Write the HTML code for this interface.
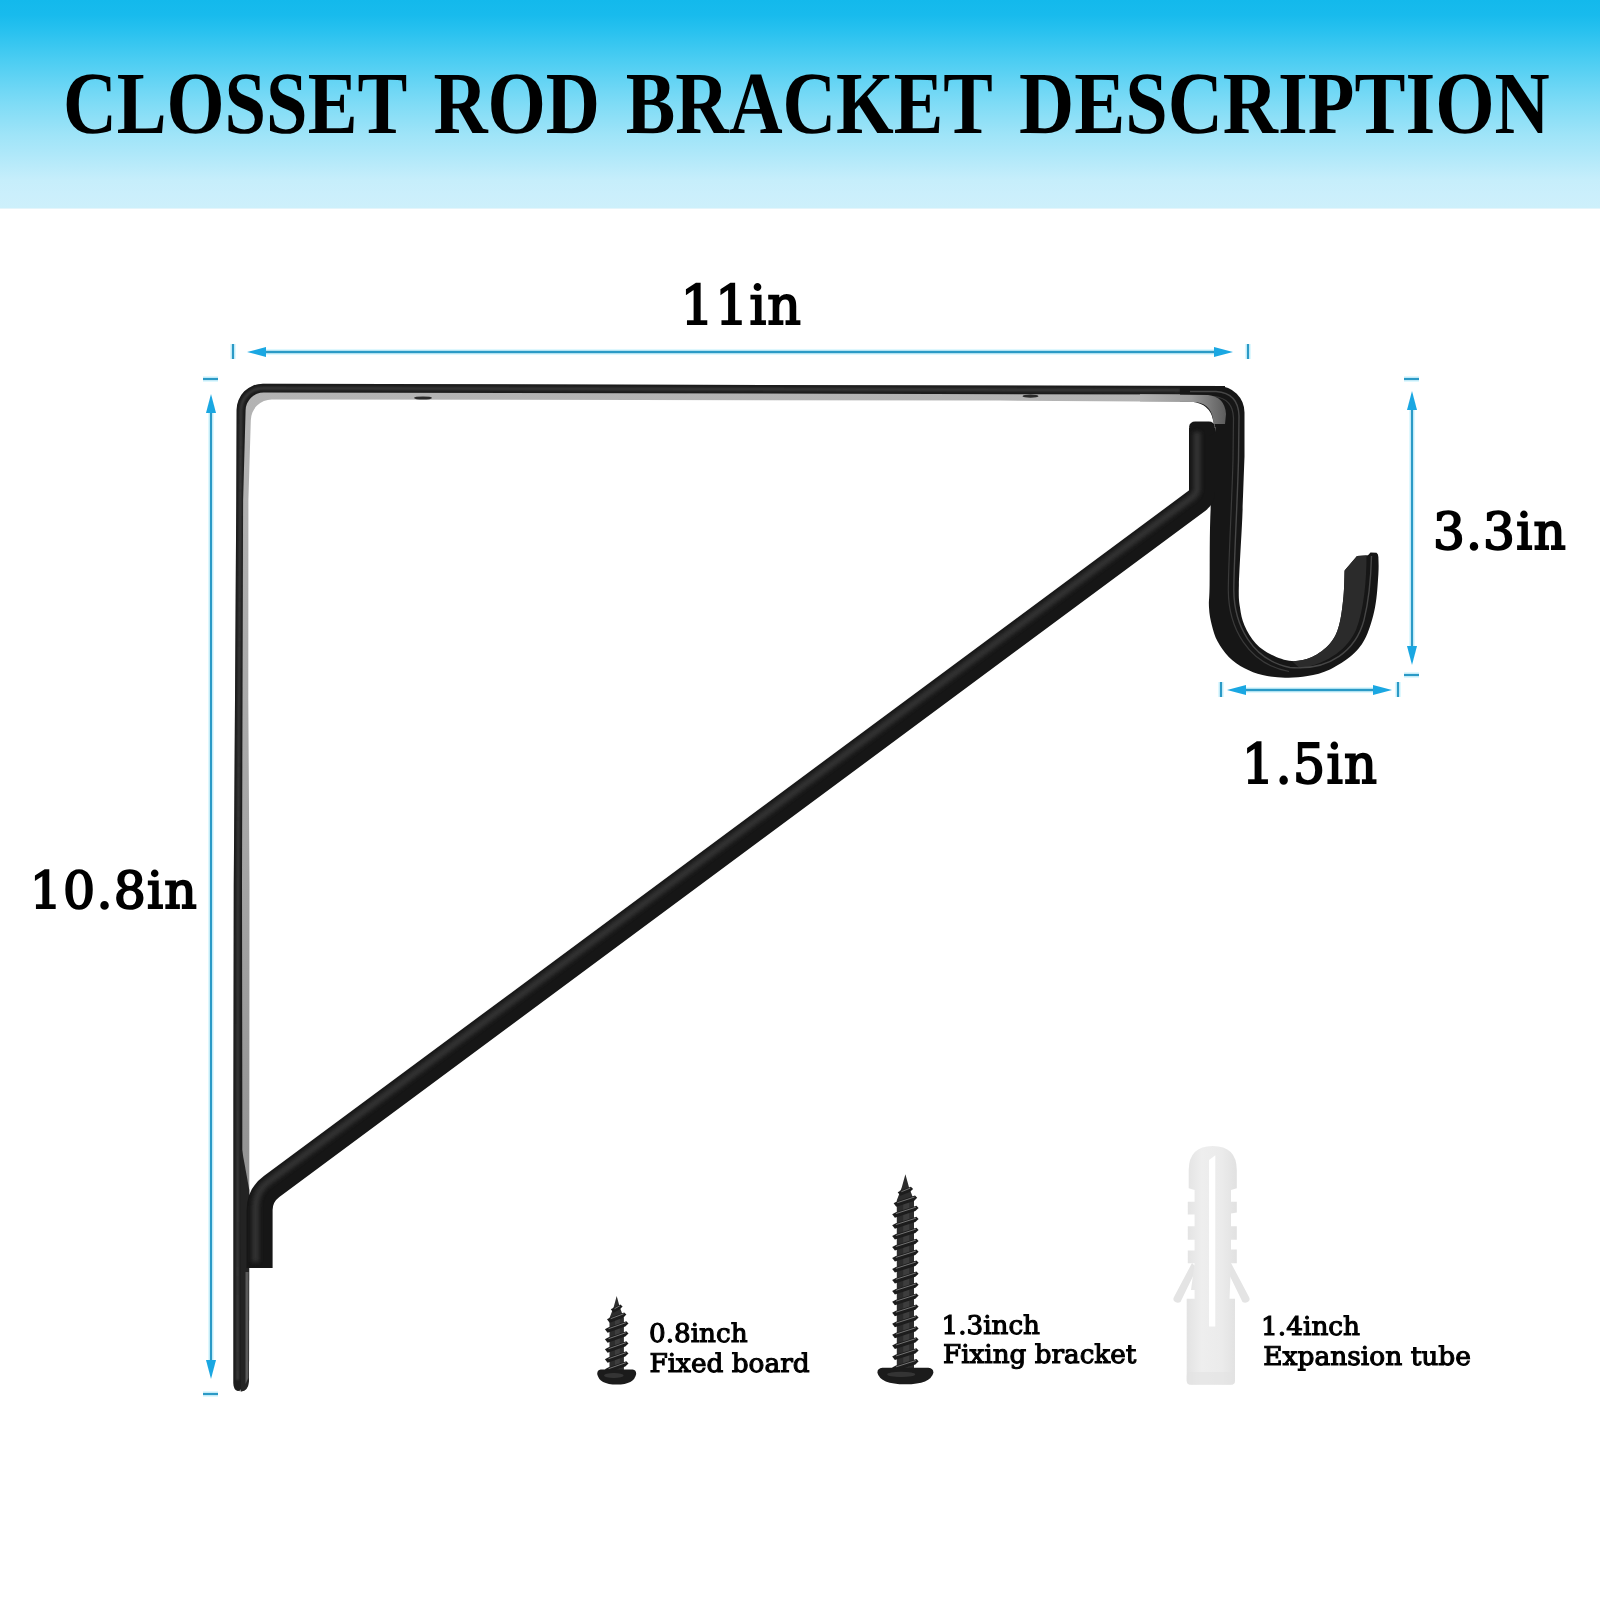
<!DOCTYPE html>
<html lang="en">
<head>
<meta charset="utf-8">
<title>Closset Rod Bracket Description</title>
<style>
  html, body { margin: 0; padding: 0; }
  body { width: 1600px; height: 1600px; position: relative; overflow: hidden; background: #ffffff;
         font-family: "Liberation Serif", "DejaVu Serif", serif; }
  #hdr { position: absolute; left: 0; top: 0; width: 1600px; height: 208px; border-bottom: 1px solid #e4f5fb;
         background: linear-gradient(to bottom, #13b9ec 0px, #18bbed 15px, #27c1ef 30px, #4bcdf2 60px, #6fd7f5 90px, #80dcf6 105px, #9fe4f8 135px, #abe7f9 150px, #c6eefb 180px, #cbeffc 195px, #cdf0fb 208px); }
  svg { position: absolute; left: 0; top: 0; will-change: transform; }
  text { font-family: "Liberation Serif", "DejaVu Serif", serif; font-weight: bold; fill: #000; text-rendering: geometricPrecision; }
  .lbl, .lbl text { font-family: "DejaVu Serif", "Liberation Serif", serif; font-weight: normal; stroke: #000; stroke-linejoin: miter; }
</style>
</head>
<body>
<div id="hdr"></div>
<svg width="1600" height="1600" viewBox="0 0 1600 1600">
  <defs>
    <linearGradient id="gTop" x1="0" y1="0" x2="0" y2="1">
      <stop offset="0" stop-color="#b9b9b9"/><stop offset="1" stop-color="#8f8f8f"/>
    </linearGradient>
    <filter id="blur2" x="-5%" y="-5%" width="110%" height="110%"><feGaussianBlur stdDeviation="2"/></filter>
    <linearGradient id="gTube" x1="0" y1="0" x2="1" y2="0"><stop offset="0" stop-color="#e3e3e3"/><stop offset="0.3" stop-color="#eeeeee"/><stop offset="0.7" stop-color="#ebebeb"/><stop offset="1" stop-color="#e1e1e1"/></linearGradient>
    <linearGradient id="gFillet" gradientUnits="userSpaceOnUse" x1="1140" y1="0" x2="1226" y2="0"><stop offset="0" stop-color="#b2b2b2"/><stop offset="0.6" stop-color="#9a9a9a"/><stop offset="1" stop-color="#5c5c5c"/></linearGradient>
    <filter id="blur1" x="-5%" y="-5%" width="110%" height="110%"><feGaussianBlur stdDeviation="0.9"/></filter>
    <linearGradient id="gUnder" gradientUnits="userSpaceOnUse" x1="0" y1="380" x2="0" y2="1300"><stop offset="0" stop-color="#b4b4b4"/><stop offset="0.5" stop-color="#a6a6a6"/><stop offset="1" stop-color="#8c8c8c"/></linearGradient>
  </defs>

  <!-- TITLE -->
  <g id="title" font-size="88.6">
    <text id="t1" x="62.9" y="133.4" textLength="344.3" lengthAdjust="spacingAndGlyphs">CLOSSET</text>
    <text id="t2" x="433.4" y="133.4" textLength="166.6" lengthAdjust="spacingAndGlyphs">ROD</text>
    <text id="t3" x="625.8" y="133.4" textLength="367.0" lengthAdjust="spacingAndGlyphs">BRACKET</text>
    <text id="t4" x="1019.0" y="133.4" textLength="530.8" lengthAdjust="spacingAndGlyphs">DESCRIPTION</text>
  </g>

  <!-- DIMENSION LABELS -->
  <text id="l11" class="lbl" letter-spacing="1.2" stroke-width="2" x="680.6" y="324.0" font-size="54.4" textLength="121.5" lengthAdjust="spacingAndGlyphs">11in</text>
  <text id="l108" class="lbl" letter-spacing="1.2" stroke-width="2" x="29.8" y="908.0" font-size="51.0" textLength="168.3" lengthAdjust="spacingAndGlyphs">10.8in</text>
  <text id="l33" class="lbl" letter-spacing="1.2" stroke-width="2" x="1432.9" y="549.2" font-size="51.0" textLength="134.0" lengthAdjust="spacingAndGlyphs">3.3in</text>
  <text id="l15" class="lbl" letter-spacing="1.2" stroke-width="2" x="1241.8" y="782.8" font-size="55.0" textLength="136.3" lengthAdjust="spacingAndGlyphs">1.5in</text>

  <!-- BLUE DIMENSION ARROWS -->
  <g id="dims">
    <g stroke="#dcf8fe" stroke-width="6" opacity="0.9">
      <line x1="233" y1="344" x2="233" y2="359"/>
      <line x1="1248" y1="344" x2="1248" y2="359"/>
      <line x1="262" y1="352" x2="1218" y2="352"/>
      <line x1="203" y1="379" x2="218" y2="379"/>
      <line x1="203" y1="1394" x2="218" y2="1394"/>
      <line x1="211" y1="410" x2="211" y2="1364"/>
      <line x1="1404" y1="379" x2="1419" y2="379"/>
      <line x1="1404" y1="675" x2="1419" y2="675"/>
      <line x1="1412" y1="408" x2="1412" y2="648"/>
      <line x1="1221" y1="682" x2="1221" y2="697"/>
      <line x1="1398" y1="682" x2="1398" y2="697"/>
      <line x1="1244" y1="690" x2="1375" y2="690"/>
    </g>
    <g stroke="#2b9ac6" stroke-width="2.3">
      <line x1="233" y1="344" x2="233" y2="359"/>
      <line x1="1248" y1="344" x2="1248" y2="359"/>
      <line x1="262" y1="352" x2="1218" y2="352"/>
      <line x1="203" y1="379" x2="218" y2="379"/>
      <line x1="203" y1="1394" x2="218" y2="1394"/>
      <line x1="211" y1="410" x2="211" y2="1364"/>
      <line x1="1404" y1="379" x2="1419" y2="379"/>
      <line x1="1404" y1="675" x2="1419" y2="675"/>
      <line x1="1412" y1="408" x2="1412" y2="648"/>
      <line x1="1221" y1="682" x2="1221" y2="697"/>
      <line x1="1398" y1="682" x2="1398" y2="697"/>
      <line x1="1244" y1="690" x2="1375" y2="690"/>
    </g>
    <g fill="#1aa7e2">
      <polygon points="247,352 266,347 266,357"/>
      <polygon points="1233,352 1214,347 1214,357"/>
      <polygon points="211,394 206,413 216,413"/>
      <polygon points="211,1379 206,1360 216,1360"/>
      <polygon points="1412,391 1407,410 1417,410"/>
      <polygon points="1412,665 1407,646 1417,646"/>
      <polygon points="1227,690 1246,685 1246,695"/>
      <polygon points="1392,690 1373,685 1373,695"/>
    </g>
  </g>

  <!-- BRACKET placeholder -->
  <g id="bracket">
    <!-- frame: left strip + top bar (gray underside first, then dark face) -->
    <path d="M 233.4 1383 L 233.4 1100 L 233.75 885 L 235 700 L 236.25 500 L 236.6 410 A 26.3 26.3 0 0 1 263 383.7 L 1225 386 L 1225 402 L 1000 400.6 L 272 399.5 A 21 21 0 0 0 250.8 420.5 L 248.4 500 L 248.3 700 L 249.5 885 L 249.3 1190 L 249 1381 Q 248 1391.4 241 1391.4 Q 233.4 1391 233.4 1383 Z" fill="url(#gUnder)"/>
    <path d="M 233.4 1383 L 233.4 1100 L 233.75 885 L 235 700 L 236.25 500 L 236.6 410 A 26.3 26.3 0 0 1 263 383.7 L 1225 386 L 1225 394.6 L 264 392.5 A 18 18 0 0 0 245.6 410.5 L 243.1 500 L 242.5 700 L 242 885 L 242.3 1100 L 242.3 1383 Q 242 1391 238 1391 Q 233.4 1390 233.4 1383 Z" fill="#1c1c1c"/>
    <path d="M 237.6 1380 L 237.7 1100 L 238 885 L 239 700 L 240.3 500 L 240.9 410 A 22 22 0 0 1 263 388.2 L 1180 390.2" fill="none" stroke="#4a4a4a" stroke-width="2.6" opacity="0.7" filter="url(#blur1)"/>
    <!-- lower part of strip is fully dark -->
    <path d="M 242 1150 L 249.3 1190 L 249 1381 Q 248 1391.4 241 1391.4 L 240 1150 Z" fill="#232323"/>
    <path d="M 245.5 1272 L 248.6 1272 L 248.4 1378 L 245.5 1384 Z" fill="#5a5a5a"/>
    <!-- holes in top bar -->
    <ellipse cx="423" cy="398" rx="9" ry="1.6" fill="#2a2a2a"/>
    <ellipse cx="1030.5" cy="396.2" rx="8" ry="1.6" fill="#2a2a2a"/>

    <!-- hook -->
    <path id="hook" d="M 1180 386 L 1218 386 A 26.5 26.5 0 0 1 1244.5 412.5 L 1244.5 456.8
      C 1244.1 466.9 1243.2 496.1 1242.3 517.5 C 1241.3 538.9 1239.3 570.0 1238.9 585.0 C 1238.5 600.0 1239.1 600.8 1240.0 607.5 C 1240.9 614.3 1241.9 619.5 1244.5 625.5 C 1247.1 631.5 1251.3 638.6 1255.8 643.5 C 1260.3 648.4 1265.5 651.8 1271.5 654.8 C 1277.5 657.7 1285.0 660.7 1291.8 661.1 C 1298.5 661.4 1305.6 659.9 1312.0 657.0 C 1318.4 654.1 1325.5 648.8 1330.0 643.5 C 1334.5 638.3 1336.8 633.4 1339.0 625.5 C 1341.3 617.6 1342.6 605.4 1343.5 596.3 C 1344.4 587.1 1344.4 574.7 1344.6 570.4
      L 1357 556 L 1368 555.2 L 1370.5 552.6 L 1376.5 552.8 Q 1378.6 554 1378.4 558
      C 1378.4 558.8 1378.9 565.1 1378.4 573.8 C 1377.8 582.4 1377.1 597.0 1375.0 607.5 C 1372.9 618.0 1369.8 628.9 1366.0 636.8 C 1362.3 644.6 1358.5 649.3 1352.5 654.8 C 1346.5 660.2 1337.5 665.8 1330.0 669.4 C 1322.5 672.9 1315.0 674.7 1307.5 676.1 C 1300.0 677.5 1292.5 677.9 1285.0 677.7 C 1277.5 677.5 1269.3 676.6 1262.5 675.0 C 1255.8 673.4 1250.1 671.3 1244.5 668.3 C 1238.9 665.3 1233.3 661.5 1228.8 657.0 C 1224.3 652.5 1220.3 646.5 1217.5 641.3 C 1214.7 636.0 1213.3 631.1 1211.9 625.5 C 1210.5 619.9 1209.3 614.3 1209.0 607.5 C 1208.6 600.8 1209.4 600.0 1209.6 585.0 C 1209.9 570.0 1209.4 543.8 1210.3 517.5 C 1211.2 491.3 1214.4 442.5 1215.3 427.5
      L 1213 420 Q 1210 404 1192 401.8 L 1180 401.5 Z" fill="#161616"/>
    <!-- inner face of hook (visible inside of the U on right side) -->
    <path d="M 1344.6 570.4 L 1357 556 L 1366.5 555.5 C 1366.5 580 1364 610 1356 630 C 1348 648 1330 663 1300 668.5 L 1291.8 661.1 C 1298.5 661.4 1305.6 659.9 1312.0 657.0 C 1318.4 654.1 1325.5 648.8 1330.0 643.5 C 1334.5 638.3 1336.8 633.4 1339.0 625.5 C 1341.3 617.6 1342.6 605.4 1343.5 596.3 C 1344.4 587.1 1344.4 574.7 1344.6 570.4 Z" fill="#2b2b2b"/>
    <!-- ridge lines on hook strip -->
    <path d="M 1190 391.5 L 1216 391.5 Q 1238.5 393 1239 416 L 1238.5 460 C 1237.5 500 1234 560 1233.8 590 C 1234 625 1252 660 1290 667.5 C 1330 671 1356 650 1364 620 C 1369 600 1371 575 1371.5 556" fill="none" stroke="#474747" stroke-width="1.4"/>
    <path d="M 1190 396.5 L 1214 396.5 Q 1233 398.5 1233.5 418 L 1233 460 C 1232 500 1228.5 560 1228.3 590 C 1228.5 628 1248 664 1289 671.5" fill="none" stroke="#3a3a3a" stroke-width="1.2"/>

    <!-- top-right corner inner gray fillet -->
    <path d="M 1140 394.3 L 1208 395 Q 1225 397 1226 414 L 1225 424 L 1213.5 424 Q 1213 404.5 1196 402 L 1140 401.4 Z" fill="url(#gFillet)"/>
    <!-- diagonal rod -->
    <path id="rod" d="M 1202 428 L 1202 492 Q 1202 497 1198 500 L 271.6 1186.5 Q 259.6 1195.4 259.6 1210 L 259.6 1268" fill="none" stroke="#161616" stroke-width="26" stroke-linejoin="round" stroke-linecap="butt"/>
    <rect x="1189.2" y="421.5" width="25.6" height="14" rx="6" ry="5" fill="#161616"/>
    <path d="M 1197 432 L 1197 489 Q 1197 493 1193 496.5 L 268 1182 Q 255.5 1191 255.5 1208 L 255.5 1262" fill="none" stroke="#3d3d3d" stroke-width="7" stroke-linejoin="round" opacity="0.75" filter="url(#blur2)"/>
  </g>

  <!-- HARDWARE placeholder -->
  <g id="screw-small">
    <path d="M 616.7 1296.0 L 619.7 1307.0 L 623.9 1318.0 L 623.9 1371.0 L 609.5 1371.0 L 609.5 1318.0 L 613.7 1307.0 Z" fill="#2d2d2d"/>
    <rect x="614.9" y="1318.0" width="5.0" height="51.0" fill="#4a4a4a" opacity="0.55"/>
    <path d="M 610.8 1309.3 L 614.5 1307.3 L 620.4 1304.4 L 622.6 1306.6 L 619.4 1309.7 L 613.5 1312.8 Z" fill="#1c1c1c"/>
    <path d="M 614.5 1308.7 L 619.9 1305.8" stroke="#7d7d7d" stroke-width="0.9" fill="none"/>
    <path d="M 607.0 1319.3 L 610.7 1317.3 L 624.2 1312.4 L 626.4 1314.6 L 623.2 1317.7 L 609.7 1322.8 Z" fill="#1c1c1c"/>
    <path d="M 610.7 1318.7 L 623.7 1313.8" stroke="#7d7d7d" stroke-width="0.9" fill="none"/>
    <path d="M 604.9 1329.3 L 608.6 1327.3 L 626.3 1321.3 L 628.5 1323.5 L 625.3 1326.6 L 607.6 1332.8 Z" fill="#1c1c1c"/>
    <path d="M 608.6 1328.7 L 625.8 1322.7" stroke="#7d7d7d" stroke-width="0.9" fill="none"/>
    <path d="M 604.9 1339.3 L 608.6 1337.3 L 626.3 1331.3 L 628.5 1333.5 L 625.3 1336.6 L 607.6 1342.8 Z" fill="#1c1c1c"/>
    <path d="M 608.6 1338.7 L 625.8 1332.7" stroke="#7d7d7d" stroke-width="0.9" fill="none"/>
    <path d="M 604.9 1349.3 L 608.6 1347.3 L 626.3 1341.3 L 628.5 1343.5 L 625.3 1346.6 L 607.6 1352.8 Z" fill="#1c1c1c"/>
    <path d="M 608.6 1348.7 L 625.8 1342.7" stroke="#7d7d7d" stroke-width="0.9" fill="none"/>
    <path d="M 604.9 1359.3 L 608.6 1357.3 L 626.3 1351.3 L 628.5 1353.5 L 625.3 1356.6 L 607.6 1362.8 Z" fill="#1c1c1c"/>
    <path d="M 608.6 1358.7 L 625.8 1352.7" stroke="#7d7d7d" stroke-width="0.9" fill="none"/>
    <path d="M 604.9 1369.3 L 608.6 1367.3 L 626.3 1361.3 L 628.5 1363.5 L 625.3 1366.6 L 607.6 1372.8 Z" fill="#1c1c1c"/>
    <path d="M 608.6 1368.7 L 625.8 1362.7" stroke="#7d7d7d" stroke-width="0.9" fill="none"/>
    <path d="M 600.7 1369.5 L 632.7 1369.5 Q 636.2 1369.8 636.2 1374.0 Q 634.2 1384.6 616.7 1384.6 Q 599.2 1384.6 597.2 1374.0 Q 597.2 1369.8 600.7 1369.5 Z" fill="#1b1b1b"/>
    <ellipse cx="613.8" cy="1375.6" rx="9.8" ry="2.5" fill="#3b3b3b" opacity="0.8"/>
  </g>
  <g id="screw-large">
    <path d="M 905.4 1174.3 L 909.0 1187.3 L 914.0 1200.3 L 914.0 1369.3 L 896.8 1369.3 L 896.8 1200.3 L 901.8 1187.3 Z" fill="#2d2d2d"/>
    <rect x="903.2" y="1200.3" width="6.0" height="167.0" fill="#4a4a4a" opacity="0.55"/>
    <path d="M 897.7 1192.3 L 901.4 1190.3 L 910.9 1186.7 L 913.1 1188.9 L 909.9 1192.0 L 900.4 1195.8 Z" fill="#1c1c1c"/>
    <path d="M 901.4 1191.7 L 910.4 1188.1" stroke="#7d7d7d" stroke-width="0.9" fill="none"/>
    <path d="M 893.6 1203.2 L 897.3 1201.2 L 915.0 1195.6 L 917.2 1197.8 L 914.0 1200.9 L 896.3 1206.8 Z" fill="#1c1c1c"/>
    <path d="M 897.3 1202.7 L 914.5 1197.0" stroke="#7d7d7d" stroke-width="0.9" fill="none"/>
    <path d="M 892.2 1214.2 L 895.9 1212.2 L 916.4 1205.8 L 918.6 1208.0 L 915.4 1211.1 L 894.9 1217.7 Z" fill="#1c1c1c"/>
    <path d="M 895.9 1213.6 L 915.9 1207.2" stroke="#7d7d7d" stroke-width="0.9" fill="none"/>
    <path d="M 892.2 1225.2 L 895.9 1223.2 L 916.4 1216.8 L 918.6 1219.0 L 915.4 1222.1 L 894.9 1228.7 Z" fill="#1c1c1c"/>
    <path d="M 895.9 1224.6 L 915.9 1218.2" stroke="#7d7d7d" stroke-width="0.9" fill="none"/>
    <path d="M 892.2 1236.1 L 895.9 1234.1 L 916.4 1227.7 L 918.6 1229.9 L 915.4 1233.0 L 894.9 1239.6 Z" fill="#1c1c1c"/>
    <path d="M 895.9 1235.5 L 915.9 1229.1" stroke="#7d7d7d" stroke-width="0.9" fill="none"/>
    <path d="M 892.2 1247.1 L 895.9 1245.1 L 916.4 1238.7 L 918.6 1240.9 L 915.4 1244.0 L 894.9 1250.6 Z" fill="#1c1c1c"/>
    <path d="M 895.9 1246.5 L 915.9 1240.1" stroke="#7d7d7d" stroke-width="0.9" fill="none"/>
    <path d="M 892.2 1258.0 L 895.9 1256.0 L 916.4 1249.6 L 918.6 1251.8 L 915.4 1254.9 L 894.9 1261.5 Z" fill="#1c1c1c"/>
    <path d="M 895.9 1257.4 L 915.9 1251.0" stroke="#7d7d7d" stroke-width="0.9" fill="none"/>
    <path d="M 892.2 1269.0 L 895.9 1267.0 L 916.4 1260.6 L 918.6 1262.8 L 915.4 1265.9 L 894.9 1272.5 Z" fill="#1c1c1c"/>
    <path d="M 895.9 1268.4 L 915.9 1262.0" stroke="#7d7d7d" stroke-width="0.9" fill="none"/>
    <path d="M 892.2 1279.9 L 895.9 1277.9 L 916.4 1271.5 L 918.6 1273.7 L 915.4 1276.8 L 894.9 1283.4 Z" fill="#1c1c1c"/>
    <path d="M 895.9 1279.3 L 915.9 1272.9" stroke="#7d7d7d" stroke-width="0.9" fill="none"/>
    <path d="M 892.2 1290.9 L 895.9 1288.9 L 916.4 1282.5 L 918.6 1284.7 L 915.4 1287.8 L 894.9 1294.4 Z" fill="#1c1c1c"/>
    <path d="M 895.9 1290.3 L 915.9 1283.9" stroke="#7d7d7d" stroke-width="0.9" fill="none"/>
    <path d="M 892.2 1301.8 L 895.9 1299.8 L 916.4 1293.4 L 918.6 1295.6 L 915.4 1298.7 L 894.9 1305.3 Z" fill="#1c1c1c"/>
    <path d="M 895.9 1301.2 L 915.9 1294.8" stroke="#7d7d7d" stroke-width="0.9" fill="none"/>
    <path d="M 892.2 1312.8 L 895.9 1310.8 L 916.4 1304.4 L 918.6 1306.6 L 915.4 1309.7 L 894.9 1316.3 Z" fill="#1c1c1c"/>
    <path d="M 895.9 1312.2 L 915.9 1305.8" stroke="#7d7d7d" stroke-width="0.9" fill="none"/>
    <path d="M 892.2 1323.7 L 895.9 1321.7 L 916.4 1315.3 L 918.6 1317.5 L 915.4 1320.6 L 894.9 1327.2 Z" fill="#1c1c1c"/>
    <path d="M 895.9 1323.1 L 915.9 1316.7" stroke="#7d7d7d" stroke-width="0.9" fill="none"/>
    <path d="M 892.2 1334.7 L 895.9 1332.7 L 916.4 1326.3 L 918.6 1328.5 L 915.4 1331.6 L 894.9 1338.2 Z" fill="#1c1c1c"/>
    <path d="M 895.9 1334.1 L 915.9 1327.7" stroke="#7d7d7d" stroke-width="0.9" fill="none"/>
    <path d="M 892.2 1345.6 L 895.9 1343.6 L 916.4 1337.2 L 918.6 1339.4 L 915.4 1342.5 L 894.9 1349.1 Z" fill="#1c1c1c"/>
    <path d="M 895.9 1345.0 L 915.9 1338.6" stroke="#7d7d7d" stroke-width="0.9" fill="none"/>
    <path d="M 892.2 1356.6 L 895.9 1354.6 L 916.4 1348.2 L 918.6 1350.4 L 915.4 1353.5 L 894.9 1360.1 Z" fill="#1c1c1c"/>
    <path d="M 895.9 1356.0 L 915.9 1349.6" stroke="#7d7d7d" stroke-width="0.9" fill="none"/>
    <path d="M 892.2 1367.5 L 895.9 1365.5 L 916.4 1359.1 L 918.6 1361.3 L 915.4 1364.4 L 894.9 1371.0 Z" fill="#1c1c1c"/>
    <path d="M 895.9 1366.9 L 915.9 1360.5" stroke="#7d7d7d" stroke-width="0.9" fill="none"/>
    <path d="M 882.4 1367.8 L 928.4 1367.8 Q 933.4 1368.1 933.4 1372.7 Q 930.6 1384.3 905.4 1384.3 Q 880.2 1384.3 877.4 1372.7 Q 877.4 1368.1 882.4 1367.8 Z" fill="#1b1b1b"/>
    <ellipse cx="901.2" cy="1374.4" rx="14.0" ry="2.7" fill="#3b3b3b" opacity="0.8"/>
  </g>
  <g id="tube">
    <!-- wings -->
    <path d="M 1192 1263 L 1197 1268 L 1180.5 1302 Q 1177 1304 1174 1301 Q 1172.5 1299 1174.5 1296 Z" fill="#e4e4e4"/>
    <path d="M 1231 1263 L 1226 1268 L 1242.5 1302 Q 1246 1304 1249 1301 Q 1250.5 1299 1248.5 1296 Z" fill="#e4e4e4"/>
    <!-- dome + core + ribs + lower body -->
    <path d="M 1188.7 1188.2 L 1188.7 1170 Q 1189 1146 1212.7 1146 Q 1236.6 1146 1236.8 1170 L 1236.8 1188.2 L 1231 1190 L 1231 1201.7
             L 1236.8 1201.7 L 1236.8 1212.5 L 1231 1213.5 L 1231 1226.2 L 1236.8 1226.2 L 1236.8 1239.7 L 1231 1239.7 L 1231 1249.5
             L 1236.8 1249.5 L 1236.8 1263.3 L 1231 1263.3 L 1229.5 1298.7 L 1235 1298.7 L 1235 1380.5 Q 1235 1384.8 1230.5 1384.8
             L 1191.2 1384.8 Q 1186.7 1384.8 1186.7 1380.5 L 1186.7 1298.7 L 1194.6 1298.7 L 1194.6 1290 L 1191 1290 L 1194.6 1263.3
             L 1187.8 1263.3 L 1187.8 1250.6 L 1194.6 1250.6 L 1194.6 1239.7 L 1187.8 1239.7 L 1187.8 1226.2 L 1194.6 1226.2 L 1194.6 1214.4
             L 1187.8 1214.4 L 1187.8 1201.7 L 1194.6 1201.7 L 1194.6 1190 Z" fill="url(#gTube)"/>
    <rect x="1186.7" y="1372" width="48.3" height="12.8" rx="4" fill="#e2e2e2" opacity="0.6"/>
    <!-- slot -->
    <path d="M 1209 1160 L 1215.3 1155.3 L 1215.3 1326.6 L 1209 1326.6 Z" fill="#ffffff"/>
  </g>
  <g id="hwlabels" class="lbl" font-size="25.7" stroke-width="1.1">
    <text id="h1a" x="649.0" y="1342.0" textLength="98.6" lengthAdjust="spacingAndGlyphs">0.8inch</text>
    <text id="h1b" x="649.4" y="1371.9" textLength="160.2" lengthAdjust="spacingAndGlyphs">Fixed board</text>
    <text id="h2a" x="941.5" y="1334.0" textLength="98.5" lengthAdjust="spacingAndGlyphs">1.3inch</text>
    <text id="h2b" x="943.0" y="1363.0" textLength="193.3" lengthAdjust="spacingAndGlyphs">Fixing bracket</text>
    <text id="h3a" x="1261.1" y="1334.5" textLength="99.0" lengthAdjust="spacingAndGlyphs">1.4inch</text>
    <text id="h3b" x="1263.2" y="1364.5" textLength="207.8" lengthAdjust="spacingAndGlyphs">Expansion tube</text>
  </g>
</svg>
</body>
</html>
